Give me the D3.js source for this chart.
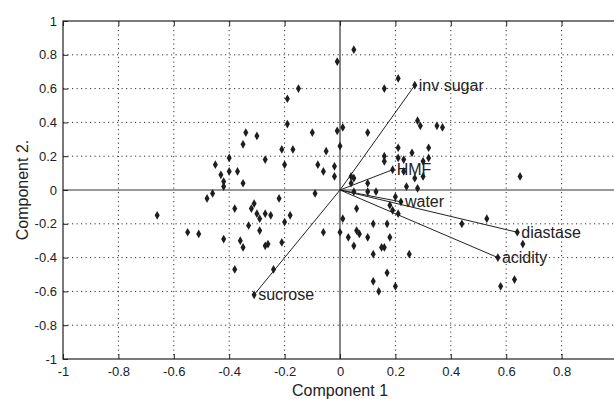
<!DOCTYPE html>
<html lang="en">
<head>
    <meta charset="UTF-8">
    <title>PCA biplot</title>
    <style>
        body{ margin:0; background:#fff; }
        svg{ display:block; background:#fff; }
        .axis text{ font-family: "Liberation Sans", Arial, sans-serif; font-size:13px; fill:#222; }
        .axis .domain{ display:none; }
        .axis line{ stroke:#222; }
        .grid line{ stroke:#333; stroke-width:1px; stroke-dasharray:1.2 3.3; }
        .frame{ fill:none; stroke:#222; stroke-width:1.2px; }
        .zero{ stroke:#333; stroke-width:1.2px; }
        .vec{ stroke:#222; stroke-width:1px; }
        .pt{ fill:#1e1e1e; }
        .vlabel{ font-family:"Liberation Sans", Arial, sans-serif; font-size:16px; fill:#222; }
        .label{ font-family:"Liberation Sans", Arial, sans-serif; font-size:16px; fill:#222; }
    </style>
    <script src="https://cdn.jsdelivr.net/npm/d3@7"></script>
</head>
<body>
<script>
    // sample scores (Component 1, Component 2)
    const scoreX = [-0.66,-0.55,-0.51,-0.48,-0.46,-0.42,-0.38,-0.36,-0.35,-0.38,-0.33,-0.32,-0.31,-0.30,-0.29,-0.29,-0.27,-0.25,-0.27,-0.26,
        -0.21,-0.20,-0.22,-0.18,-0.24,-0.09,-0.45,-0.43,-0.42,-0.42,-0.40,-0.40,-0.37,-0.35,-0.35,-0.34,-0.30,-0.27,-0.21,-0.20,
        -0.19,-0.19,-0.17,-0.15,-0.10,-0.08,0.05,-0.01,0.16,0.21,-0.01,0.01,0.10,-0.05,0.00,0.21,-0.06,-0.02,-0.02,0.04,
        0.05,0.04,0.10,0.16,0.16,0.28,0.29,0.35,0.37,0.26,0.32,0.21,0.23,0.30,0.32,0.23,0.27,0.30,0.24,0.28,
        0.65,0.05,0.10,0.13,0.20,0.18,0.19,0.21,0.06,0.01,0.00,-0.06,0.03,0.06,0.07,0.05,0.10,0.12,0.17,0.18,
        0.15,0.16,0.12,0.25,0.17,0.12,0.14,0.20,0.44,0.53,0.66,0.63,0.58];
    const scoreY = [-0.15,-0.25,-0.26,-0.05,-0.02,-0.29,-0.11,-0.30,-0.34,-0.47,-0.21,-0.11,-0.08,-0.14,-0.17,-0.24,-0.14,-0.15,-0.33,-0.32,
        -0.31,-0.19,-0.05,-0.15,-0.47,-0.02,0.15,0.09,0.05,0.02,0.19,0.11,0.11,0.04,0.27,0.34,0.32,0.18,0.24,0.15,
        0.54,0.39,0.24,0.60,0.34,0.15,0.83,0.76,0.60,0.66,0.35,0.37,0.34,0.23,0.26,0.25,0.11,0.14,0.08,0.08,
        0.07,0.04,0.04,0.20,0.17,0.41,0.38,0.38,0.37,0.22,0.25,0.19,0.18,0.17,0.19,0.11,0.07,0.08,0.02,0.01,
        0.08,-0.01,-0.01,-0.01,-0.04,-0.09,-0.12,-0.14,-0.11,-0.17,-0.25,-0.25,-0.28,-0.24,-0.26,-0.33,-0.28,-0.20,-0.20,-0.28,
        -0.34,-0.34,-0.38,-0.38,-0.49,-0.54,-0.60,-0.57,-0.20,-0.17,-0.32,-0.53,-0.57];

    // variable loadings
    const varNames = ["inv sugar","HMF","water","diastase","acidity","sucrose"];
    const loadX = [0.27, 0.19, 0.22, 0.64, 0.57, -0.31];
    const loadY = [0.62, 0.12, -0.07, -0.25, -0.40, -0.62];

    const tickVals = [-1,-0.8,-0.6,-0.4,-0.2,0,0.2,0.4,0.6,0.8,1];
    const gridVals = [-0.8,-0.6,-0.4,-0.2,0.2,0.4,0.6,0.8];

    const width = 614, height = 399;
    const margins = {top:21, left:63, bottom:40, right:-3};

    const svg = d3.select("body").append("svg")
        .attr("width", width).attr("height", height);

    const xScale = d3.scaleLinear().domain([-1,1]).range([margins.left, width - margins.right]);
    const yScale = d3.scaleLinear().domain([-1,1]).range([height - margins.bottom, margins.top]);

    // dotted grid
    const grid = svg.append("g").attr("class","grid");
    grid.selectAll(".gx").data(gridVals).enter().append("line")
        .attr("x1", d=>xScale(d)).attr("x2", d=>xScale(d))
        .attr("y1", yScale(1)).attr("y2", yScale(-1));
    grid.selectAll(".gy").data(gridVals).enter().append("line")
        .attr("y1", d=>yScale(d)).attr("y2", d=>yScale(d))
        .attr("x1", xScale(-1)).attr("x2", xScale(1));

    // axes through origin
    svg.append("line").attr("class","zero")
        .attr("x1", xScale(-1)).attr("x2", xScale(1))
        .attr("y1", yScale(0)).attr("y2", yScale(0));
    svg.append("line").attr("class","zero")
        .attr("x1", xScale(0)).attr("x2", xScale(0))
        .attr("y1", yScale(-1)).attr("y2", yScale(1));

    // frame
    svg.append("rect").attr("class","frame")
        .attr("x", xScale(-1)).attr("y", yScale(1))
        .attr("width", xScale(1)-xScale(-1)).attr("height", yScale(-1)-yScale(1));

    // tick axes (inward ticks, matlab style)
    const fmt = d=>String(Math.round(d*10)/10);
    // the "1" under the right edge falls outside the picture
    const fmtX = d=>(d>=1 ? "" : fmt(d));
    svg.append("g").attr("class","axis")
        .attr("transform", `translate(0,${yScale(-1)})`)
        .call(d3.axisBottom(xScale).tickValues(tickVals).tickFormat(fmtX).tickSizeInner(-5).tickSizeOuter(0).tickPadding(8));
    svg.append("g").attr("class","axis")
        .attr("transform", `translate(${xScale(-1)},0)`)
        .call(d3.axisLeft(yScale).tickValues(tickVals).tickFormat(fmt).tickSizeInner(-5).tickSizeOuter(0).tickPadding(6));
    svg.append("g").attr("class","axis")
        .attr("transform", `translate(0,${yScale(1)})`)
        .call(d3.axisTop(xScale).tickValues(tickVals).tickFormat("").tickSizeInner(-5).tickSizeOuter(0));

    // loading vectors
    const vecs = varNames.map((n,i)=>({name:n, x:loadX[i], y:loadY[i]}));
    svg.append("g").selectAll("line").data(vecs).enter().append("line")
        .attr("class","vec")
        .attr("x1", xScale(0)).attr("y1", yScale(0))
        .attr("x2", d=>xScale(d.x)).attr("y2", d=>yScale(d.y));

    // points: scores + vector tips
    const diamond = d3.symbol().type(d3.symbolDiamond).size(22);
    const pts = scoreX.map((x,i)=>({x:x, y:scoreY[i]})).concat(vecs);
    svg.append("g").selectAll("path").data(pts).enter().append("path")
        .attr("class","pt")
        .attr("d", diamond)
        .attr("transform", d=>`translate(${xScale(d.x)},${yScale(d.y)})`);

    svg.append("g").selectAll("text").data(vecs).enter().append("text")
        .attr("class","vlabel")
        .attr("x", d=>xScale(d.x)+4)
        .attr("y", d=>yScale(d.y))
        .attr("dy","0.35em")
        .text(d=>d.name);

    // axis titles
    svg.append("text").attr("class","label")
        .attr("x", xScale(0)).attr("y", height-3)
        .style("text-anchor","middle")
        .text("Component 1");
    svg.append("text").attr("class","label")
        .attr("transform", `translate(28,${yScale(0)}) rotate(-90)`)
        .style("text-anchor","middle")
        .text("Component 2.");
</script>
</body>
</html>
